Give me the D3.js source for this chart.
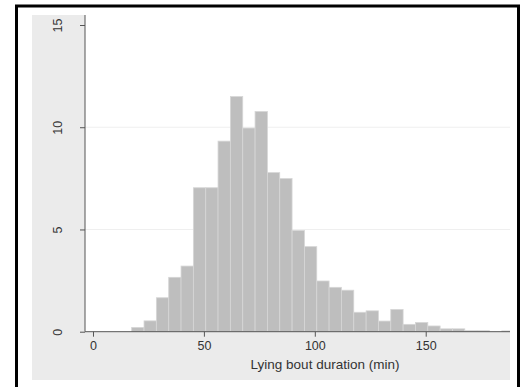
<!DOCTYPE html>
<html>
<head>
<meta charset="utf-8">
<script src="https://cdn.jsdelivr.net/npm/d3@7"></script>
<style>
  body { margin: 0; background: #fff; }
  svg { display: block; font-family: "Liberation Sans", Arial, sans-serif; }
</style>
</head>
<body>
<svg id="chart" width="523" height="387"></svg>
<script>
// histogram bins: left edge (min), shared width, percent per bin
const binStarts = [17.45, 23.01, 28.57, 34.14, 39.70, 45.26, 50.82, 56.38, 61.95, 67.51,
  73.07, 78.63, 84.19, 89.76, 95.32, 100.88, 106.44, 112.00, 117.57, 123.13,
  128.69, 134.25, 139.81, 145.38, 150.94, 156.50, 162.06, 167.62, 173.19, 178.75, 184.31];
const binWidth = 5.562;
const percents = [0.21, 0.53, 1.66, 2.66, 3.21, 7.04, 7.04, 9.32, 11.5, 9.96,
  10.77, 7.78, 7.49, 4.95, 4.16, 2.48, 2.17, 2.03, 0.95, 1.02,
  0.52, 1.09, 0.36, 0.45, 0.28, 0.14, 0.14, 0.05, 0.05, 0.0, 0.04];
const xTicks = [0, 50, 100, 150];
const yTicks = [0, 5, 10, 15];
const gridValues = [5, 10];
const xTitle = "Lying bout duration (min)";

const svg = d3.select("#chart");

// outer black frame (no bottom edge visible)
svg.append("rect")
  .attr("x", 16.5).attr("y", 6)
  .attr("width", 502).attr("height", 420)
  .attr("fill", "#fff")
  .attr("stroke", "#000")
  .attr("stroke-width", 3);

// grey graph region
svg.append("rect")
  .attr("x", 32).attr("y", 15)
  .attr("width", 478).attr("height", 365)
  .attr("fill", "#ebebeb");

const plot = { left: 85, right: 510, top: 15, bottom: 332 };

// white plot region
svg.append("rect")
  .attr("x", plot.left).attr("y", plot.top)
  .attr("width", plot.right - plot.left).attr("height", plot.bottom - plot.top)
  .attr("fill", "#fff");

const x = d3.scaleLinear().domain([-3.6, 188]).range([plot.left, plot.right]);
const y = d3.scaleLinear().domain([0, 15]).range([331.7, 25]);

svg.append("clipPath").attr("id", "clip")
  .append("rect")
  .attr("x", plot.left).attr("y", plot.top)
  .attr("width", plot.right - plot.left).attr("height", plot.bottom - plot.top);

// gridlines
svg.append("g").selectAll("line")
  .data(gridValues)
  .join("line")
  .attr("x1", plot.left).attr("x2", plot.right)
  .attr("y1", d => y(d)).attr("y2", d => y(d))
  .attr("stroke", "#efefef")
  .attr("stroke-width", 1);

// bars
svg.append("g")
  .attr("clip-path", "url(#clip)")
  .selectAll("rect")
  .data(percents.map((p, i) => ({ x0: binStarts[i], p })))
  .join("rect")
  .attr("x", d => x(d.x0))
  .attr("width", d => x(d.x0 + binWidth) - x(d.x0))
  .attr("y", d => y(d.p))
  .attr("height", d => y(0) - y(d.p))
  .attr("fill", "#bebebe")
  .attr("stroke", "#d6d6d6")
  .attr("stroke-width", 0.8);

// y axis
const yAxis = svg.append("g")
  .attr("transform", `translate(${plot.left},0)`)
  .call(d3.axisLeft(y).tickValues(yTicks).tickSize(5).tickPadding(0).tickFormat(d3.format("d")));
yAxis.select(".domain").attr("d", `M0,${plot.top}V${y(0)}`).attr("stroke", "#555");
yAxis.selectAll(".tick line").attr("stroke", "#555");
yAxis.selectAll(".tick text")
  .attr("x", 0).attr("dy", 0)
  .attr("transform", "translate(-26,0) rotate(-90)")
  .attr("text-anchor", "middle")
  .attr("dominant-baseline", "middle")
  .attr("fill", "#333")
  .style("font-size", "12.5px")
  .style("font-family", "'Liberation Sans', Arial, sans-serif");

// x axis
const xAxis = svg.append("g")
  .attr("transform", `translate(0,${y(0)})`)
  .call(d3.axisBottom(x).tickValues(xTicks).tickSize(5).tickPadding(4).tickFormat(d3.format("d")));
xAxis.select(".domain").attr("d", `M${plot.left},0H${plot.right}`).attr("stroke", "#555");
xAxis.selectAll(".tick line").attr("stroke", "#555");
xAxis.selectAll(".tick text")
  .attr("fill", "#333")
  .style("font-size", "12.5px")
  .style("font-family", "'Liberation Sans', Arial, sans-serif");

// x title
svg.append("text")
  .attr("x", 325).attr("y", 369)
  .attr("text-anchor", "middle")
  .attr("fill", "#333")
  .style("font-size", "13.5px")
  .text(xTitle);
</script>
</body>
</html>
